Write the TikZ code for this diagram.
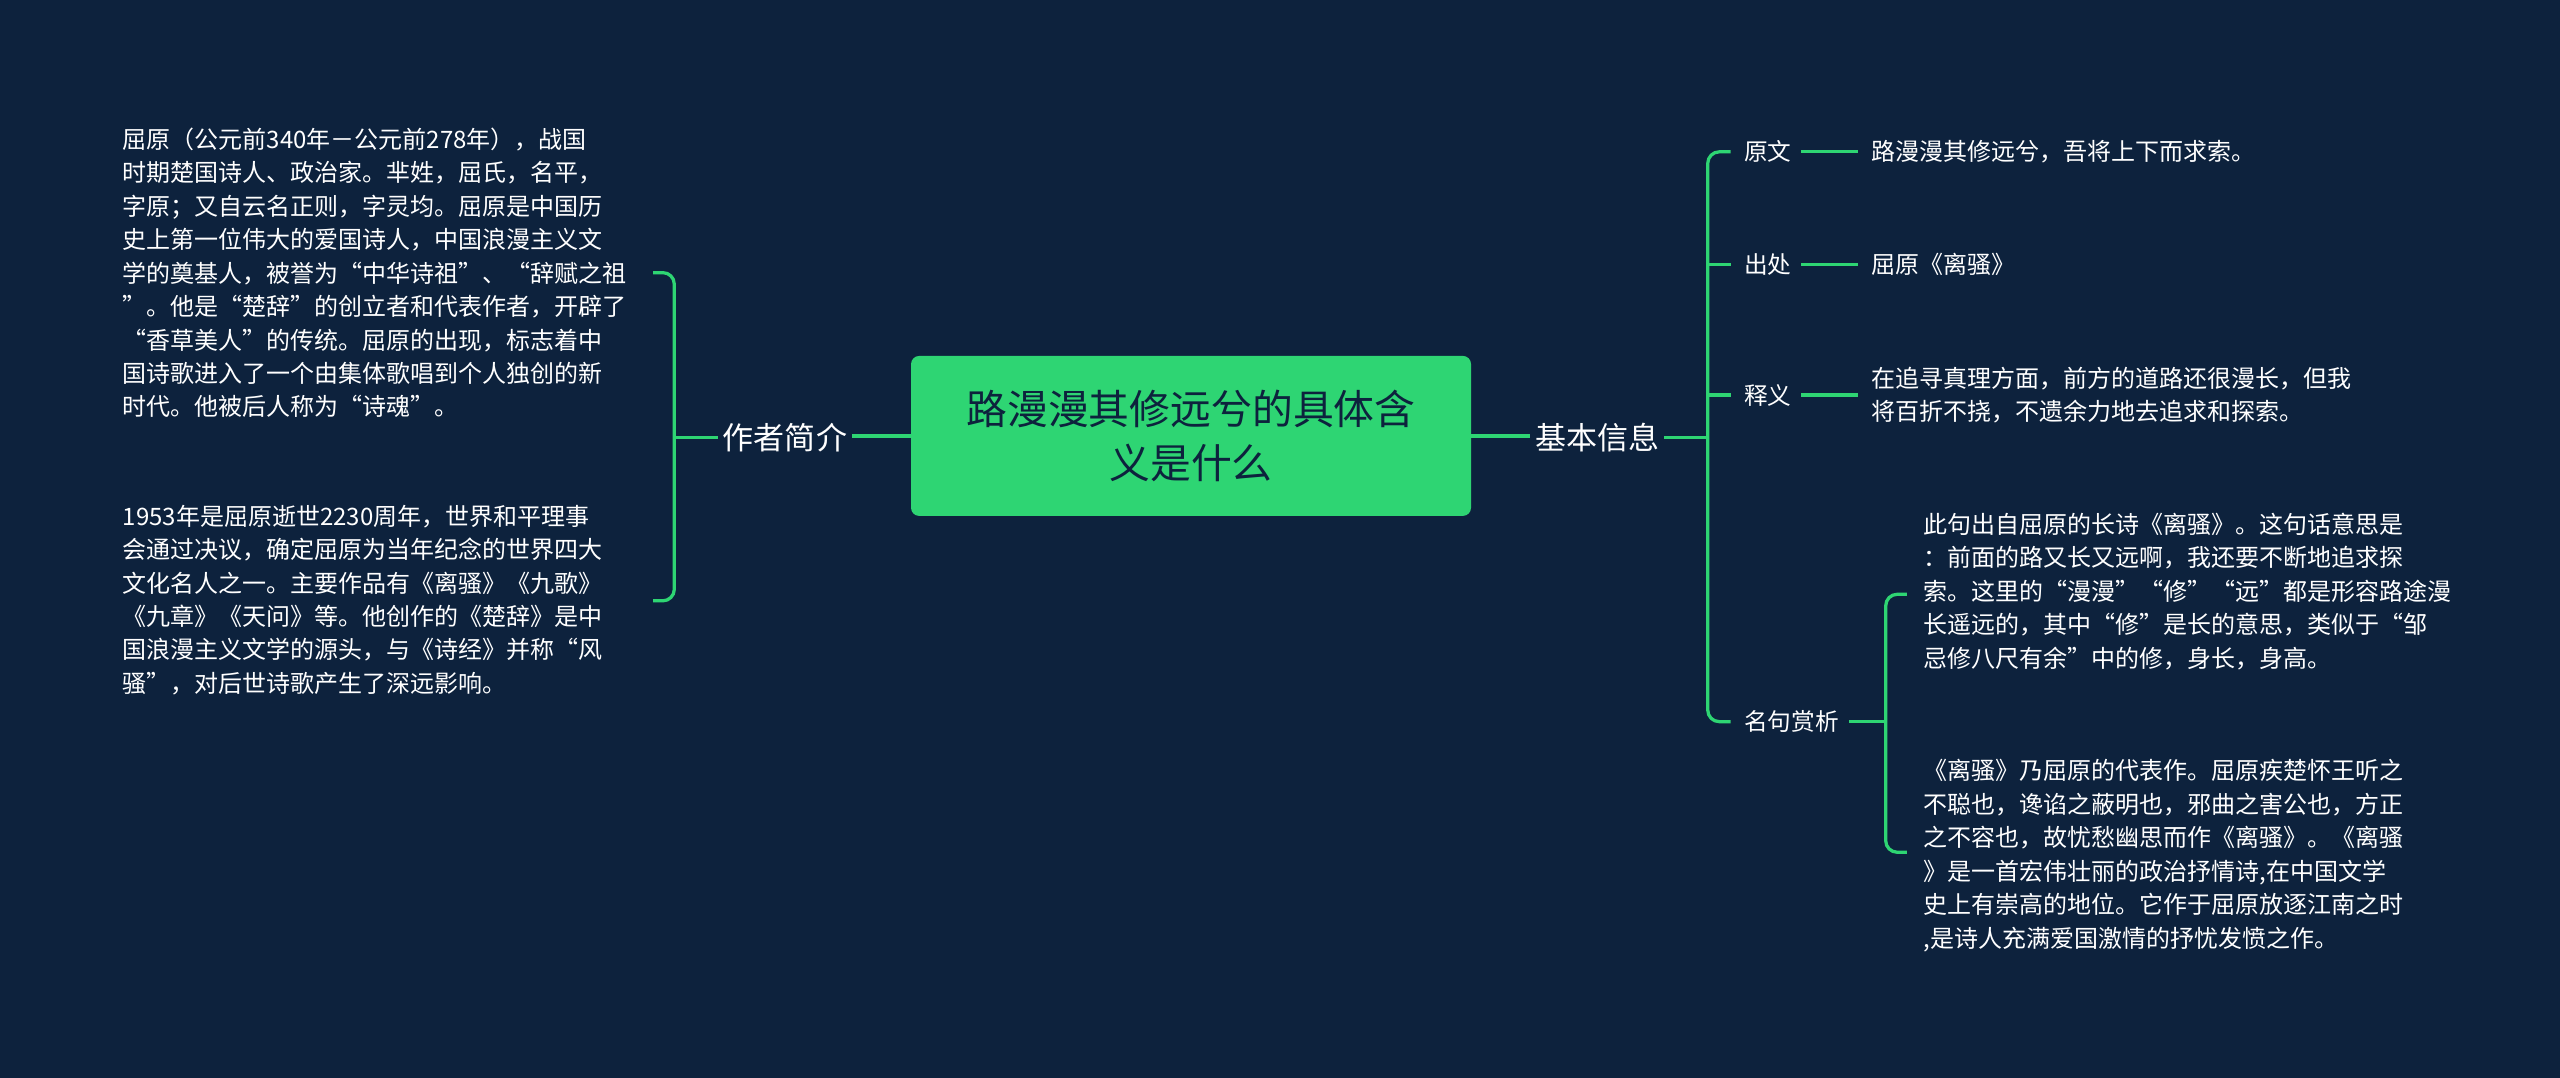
\documentclass[tikz,border=0pt]{standalone}
\usepackage{fontspec}
\setmainfont{Noto Sans CJK SC}
\definecolor{bg}{HTML}{0D223D}
\definecolor{gr}{HTML}{2ED573}
\begin{document}
\begin{tikzpicture}[x=1pt,y=-1pt,
  ln/.style={draw=gr,line width=2pt},
  br/.style={draw=gr,line width=2pt,rounded corners=7pt},
  txt/.style={text=white,font=\fontsize{14.7}{20.5}\selectfont,align=left,inner sep=0pt,anchor=north west},
  lab/.style={text=white,font=\fontsize{14.5}{18}\selectfont,inner sep=2pt},
  big/.style={text=white,font=\fontsize{19}{24}\selectfont,inner sep=3pt}]
\fill[bg] (0,0) rectangle (1568,660);
\useasboundingbox (0,0) rectangle (1568,660);
% center
\node[fill=gr,rounded corners=5pt,minimum width=343pt,minimum height=98pt,text=bg,
  font=\fontsize{25}{33}\selectfont,align=center] (c) at (729.5,267) {路漫漫其修远兮的具体含\\义是什么};
% left
\node[big,anchor=east] (za) at (522,268) {作者简介};
\draw[ln] (za.east |- c.west) -- (c.west);
\coordinate (lb) at (413,268);
\draw[ln] (za.west |- lb) -- (lb);
\draw[br] (400,167) -| (lb) |- (400,368);
\node[txt] (t1) at (75,78) {屈原（公元前340年－公元前278年），战国\\时期楚国诗人、政治家。芈姓，屈氏，名平，\\字原；又自云名正则，字灵均。屈原是中国历\\史上第一位伟大的爱国诗人，中国浪漫主义文\\学的奠基人，被誉为“中华诗祖”、“辞赋之祖\\”。他是“楚辞”的创立者和代表作者，开辟了\\“香草美人”的传统。屈原的出现，标志着中\\国诗歌进入了一个由集体歌唱到个人独创的新\\时代。他被后人称为“诗魂"。};
\node[txt] (t2) at (75,309) {1953年是屈原逝世2230周年，世界和平理事\\会通过决议，确定屈原为当年纪念的世界四大\\文化名人之一。主要作品有《离骚》《九歌》\\《九章》《天问》等。他创作的《楚辞》是中\\国浪漫主义文学的源头，与《诗经》并称“风\\骚”，对后世诗歌产生了深远影响。};
% right
\node[big,anchor=west] (jb) at (937,268) {基本信息};
\draw[ln] (c.east) -- (jb.west |- c.east);
\coordinate (rb) at (1046,268);
\draw[ln] (jb.east |- rb) -- (rb);
\draw[br] (1060,93) -| (1046,442) -- (1060,442);
\draw[br] (1046,162) -- (1060,162);
\draw[br] (1046,242) -- (1060,242);
\node[lab,anchor=west] (yw) at (1066,93) {原文};
\node[lab,anchor=west] (cc) at (1066,162) {出处};
\node[lab,anchor=west] (sy) at (1066,242) {释义};
\node[lab,anchor=west] (mj) at (1066,442) {名句赏析};
\node[txt,anchor=west] (a1) at (1146,93) {路漫漫其修远兮，吾将上下而求索。};
\node[txt,anchor=west] (a2) at (1146,162) {屈原《离骚》};
\node[txt,anchor=west] (a3) at (1146,242) {在追寻真理方面，前方的道路还很漫长，但我\\将百折不挠，不遗余力地去追求和探索。};
\draw[ln] ([xshift=4pt]yw.east) -- ([xshift=-8pt]a1.west);
\draw[ln] ([xshift=4pt]cc.east) -- ([xshift=-8pt]a2.west);
\draw[ln] ([xshift=4pt]sy.east) -- ([xshift=-8pt]a3.west);
\coordinate (mb) at (1155,442);
\draw[ln] ([xshift=4pt]mj.east) -- (mb);
\draw[br] (1168,364) -| (mb) |- (1168,522);
\node[txt] (b1) at (1178,314) {此句出自屈原的长诗《离骚》。这句话意思是\\：前面的路又长又远啊，我还要不断地追求探\\索。这里的“漫漫”“修”“远”都是形容路途漫\\长遥远的，其中“修”是长的意思，类似于“邹\\忌修八尺有余”中的修，身长，身高。};
\node[txt] (b2) at (1178,465) {《离骚》乃屈原的代表作。屈原疾楚怀王听之\\不聪也，谗谄之蔽明也，邪曲之害公也，方正\\之不容也，故忧愁幽思而作《离骚》。《离骚\\》是一首宏伟壮丽的政治抒情诗,在中国文学\\史上有崇高的地位。它作于屈原放逐江南之时\\,是诗人充满爱国激情的抒忧发愤之作。};
\end{tikzpicture}
\end{document}
